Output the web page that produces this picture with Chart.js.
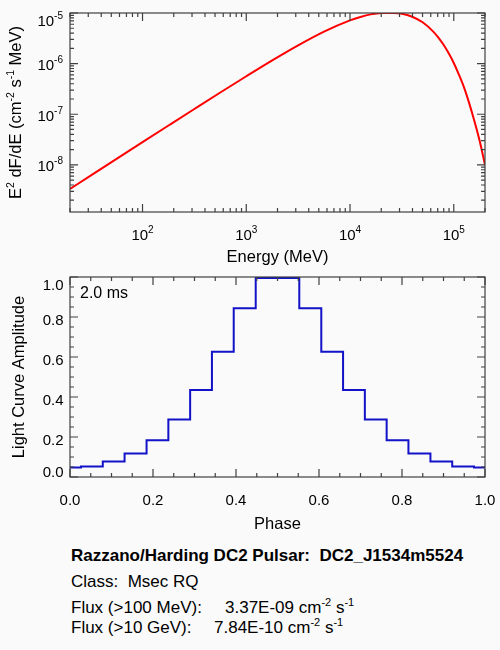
<!DOCTYPE html>
<html>
<head>
<meta charset="utf-8">
<script src="https://cdn.jsdelivr.net/npm/chart.js@4.4.1/dist/chart.umd.min.js"></script>
<style>
  body { margin: 0; background: #fafafa; width: 500px; height: 650px; overflow: hidden;
         font-family: "Liberation Sans", Arial, Helvetica, sans-serif; color: #000; }
  canvas { position: absolute; left: 0; }
  #sed { top: 0; }
  #lc { top: 270px; }
  .info { position: absolute; left: 71px; font-size: 17px; line-height: 20px; white-space: pre; }
  .val { position: absolute; top: 0; }
  .sup { position: relative; top: -7px; font-size: 11px; }
</style>
</head>
<body>
<canvas id="sed" width="500" height="270"></canvas>
<canvas id="lc" width="500" height="270"></canvas>

<div class="info" style="top:546px;font-weight:bold">Razzano/Harding DC2 Pulsar:  DC2_J1534m5524</div>
<div class="info" style="top:572px">Class:  Msec RQ</div>
<div class="info" style="top:598px">Flux (&gt;100 MeV):<span class="val" style="left:154px">3.37E-09 cm<span class="sup">-2</span> s<span class="sup">-1</span></span></div>
<div class="info" style="top:618px">Flux (&gt;10 GeV):<span class="val" style="left:143px">7.84E-10 cm<span class="sup">-2</span> s<span class="sup">-1</span></span></div>

<script>
// spectrum, E^2 dF/dE vs energy
const energyMeV = [20, 31.6, 56.2, 100, 178, 316, 562, 1000, 1780, 3160, 5620, 10000, 12600, 15800,
  20000, 25100, 31600, 39800, 50100, 63100, 70800, 79400, 89100, 100000, 112000, 126000, 141000,
  158000, 178000, 200000];
const sedFlux = [3.34e-9, 6.12e-9, 1.31e-8, 2.80e-8, 5.98e-8, 1.27e-7, 2.69e-7, 5.63e-7, 1.16e-6,
  2.30e-6, 4.30e-6, 7.15e-6, 8.35e-6, 9.40e-6, 1.005e-5, 1.01e-5, 0.97e-5, 8.45e-6, 6.55e-6, 4.34e-6,
  3.30e-6, 2.38e-6, 1.62e-6, 1.03e-6, 6.08e-7, 3.31e-7, 1.64e-7, 7.35e-8, 2.92e-8, 9.96e-9];

// light curve, 20 phase bins
const phase = [0.000, 0.053, 0.105, 0.158, 0.211, 0.263, 0.316, 0.368, 0.421, 0.474,
  0.526, 0.579, 0.632, 0.684, 0.737, 0.789, 0.842, 0.895, 0.947, 1.000];
const amplitude = [0.048, 0.053, 0.077, 0.117, 0.184, 0.287, 0.435, 0.626, 0.844, 0.995,
  0.995, 0.844, 0.626, 0.435, 0.287, 0.184, 0.117, 0.077, 0.053, 0.048];

// tick labels
const sedXPowers = [2, 3, 4, 5];
const sedYPowers = [-8, -7, -6, -5];
const lcTickValues = [0, 0.2, 0.4, 0.6, 0.8, 1.0];
const lcTickLabels = ['0.0', '0.2', '0.4', '0.6', '0.8', '1.0'];

const FONT = '"Liberation Sans", Arial, Helvetica, sans-serif';
const AXIS = '#404040';

// text with superscripts: parts = [[text, isSup], ...]
function drawRich(ctx, parts, x, y, align, size, supSize, raise) {
  let w = 0;
  parts.forEach(p => {
    ctx.font = (p[1] ? supSize : size) + 'px ' + FONT;
    w += ctx.measureText(p[0]).width;
  });
  let cx = align === 'center' ? x - w / 2 : align === 'right' ? x - w : x;
  ctx.textAlign = 'left';
  ctx.textBaseline = 'alphabetic';
  parts.forEach(p => {
    ctx.font = (p[1] ? supSize : size) + 'px ' + FONT;
    ctx.fillText(p[0], cx, p[1] ? y - raise : y);
    cx += ctx.measureText(p[0]).width;
  });
}

function logTicks(lo, hi) {
  const out = [];
  for (let e = Math.floor(Math.log10(lo)); e <= Math.ceil(Math.log10(hi)); e++) {
    for (let m = 1; m <= 9; m++) {
      const v = m * Math.pow(10, e);
      if (v >= lo * 0.999 && v <= hi * 1.001) out.push({ v: v, major: m === 1 });
    }
  }
  return out;
}

function linTicks() {
  const out = [];
  for (let k = 0; k <= 20; k++) out.push({ v: k * 0.05, major: k % 4 === 0 });
  return out;
}

function framePlugin(cfg) {
  return {
    id: 'frame',
    afterDraw(chart) {
      const ctx = chart.ctx, a = chart.chartArea;
      const xs = chart.scales.x, ys = chart.scales.y;
      ctx.save();
      ctx.strokeStyle = AXIS;
      ctx.lineWidth = 1.2;
      ctx.beginPath();
      cfg.xTicks.forEach(t => {
        const px = xs.getPixelForValue(t.v), len = t.major ? 8 : 4;
        ctx.moveTo(px, a.bottom); ctx.lineTo(px, a.bottom - len);
        ctx.moveTo(px, a.top); ctx.lineTo(px, a.top + len);
      });
      cfg.yTicks.forEach(t => {
        const py = ys.getPixelForValue(t.v), len = t.major ? 8 : 4;
        ctx.moveTo(a.left, py); ctx.lineTo(a.left + len, py);
        ctx.moveTo(a.right, py); ctx.lineTo(a.right - len, py);
      });
      ctx.stroke();
      ctx.strokeRect(a.left, a.top, a.right - a.left, a.bottom - a.top);

      ctx.fillStyle = '#000';
      cfg.xLabels.forEach(l => {
        drawRich(ctx, l.parts, xs.getPixelForValue(l.v), cfg.xLabelBase, 'center', 15, 10, 7);
      });
      cfg.yLabels.forEach(l => {
        const py = ys.getPixelForValue(l.v);
        const base = Math.min(Math.max(py + cfg.yShift, a.top + 13), a.bottom);
        drawRich(ctx, l.parts, cfg.yLabelRight, base, 'right', 15, 10, 7);
      });
      drawRich(ctx, cfg.xTitle, (a.left + a.right) / 2, cfg.xTitleBase, 'center', 16.5, 11, 7);
      ctx.save();
      ctx.translate(cfg.yTitleBase, (a.top + a.bottom) / 2);
      ctx.rotate(-Math.PI / 2);
      drawRich(ctx, cfg.yTitle, 0, 0, 'center', 16.5, 10.5, 7);
      ctx.restore();
      (cfg.notes || []).forEach(n => drawRich(ctx, n.parts, n.x, n.y, 'left', 16, 10, 7));
      ctx.restore();
    }
  };
}

const quiet = {
  responsive: false,
  animation: false,
  events: [],
  plugins: { legend: { display: false }, tooltip: { enabled: false } }
};

// Spectrum
new Chart(document.getElementById('sed'), {
  type: 'line',
  data: {
    datasets: [{
      data: energyMeV.map((e, i) => ({ x: e, y: sedFlux[i] })),
      borderColor: '#ff0000',
      borderWidth: 2,
      pointRadius: 0,
      cubicInterpolationMode: 'monotone',
      clip: 0
    }]
  },
  options: Object.assign({}, quiet, {
    layout: { padding: { top: 13, right: 15, left: 0, bottom: 0 } },
    scales: {
      x: { type: 'logarithmic', min: 20, max: 2e5, ticks: { display: false },
           grid: { display: false }, border: { display: false },
           afterFit(s) { s.height = 58; } },
      y: { type: 'logarithmic', min: 1.17e-9, max: 1e-5, ticks: { display: false },
           grid: { display: false }, border: { display: false },
           afterFit(s) { s.width = 70; } }
    }
  }),
  plugins: [framePlugin({
    xTicks: logTicks(20, 2e5),
    yTicks: logTicks(1.17e-9, 1e-5),
    xLabels: sedXPowers.map(p => ({ v: Math.pow(10, p), parts: [['10', false], [String(p), true]] })),
    yLabels: sedYPowers.map(p => ({ v: Math.pow(10, p), parts: [['10', false], [String(p), true]] })),
    xLabelBase: 240,
    yLabelRight: 63,
    yShift: 6.5,
    xTitle: [['Energy (MeV)', false]],
    xTitleBase: 262,
    yTitle: [['E', false], ['2', true], [' dF/dE (cm', false], ['-2', true], [' s', false], ['-1', true], [' MeV)', false]],
    yTitleBase: 20.5
  })]
});

// Light curve
new Chart(document.getElementById('lc'), {
  type: 'line',
  data: {
    datasets: [{
      data: phase.map((p, i) => ({ x: p, y: amplitude[i] })),
      borderColor: '#1212c8',
      borderWidth: 2,
      pointRadius: 0,
      stepped: 'middle',
      clip: 0
    }]
  },
  options: Object.assign({}, quiet, {
    layout: { padding: { top: 7, right: 15, left: 0, bottom: 0 } },
    scales: {
      x: { type: 'linear', min: 0, max: 1, ticks: { display: false },
           grid: { display: false }, border: { display: false },
           afterFit(s) { s.height = 63; } },
      y: { type: 'linear', min: 0, max: 1, ticks: { display: false },
           grid: { display: false }, border: { display: false },
           afterFit(s) { s.width = 70; } }
    }
  }),
  plugins: [framePlugin({
    xTicks: linTicks(),
    yTicks: linTicks(),
    xLabels: lcTickValues.map((v, i) => ({ v: v, parts: [[lcTickLabels[i], false]] })),
    yLabels: lcTickValues.map((v, i) => ({ v: v, parts: [[lcTickLabels[i], false]] })),
    xLabelBase: 234.5,
    yLabelRight: 63.5,
    yShift: 7.5,
    xTitle: [['Phase', false]],
    xTitleBase: 258.5,
    yTitle: [['Light Curve Amplitude', false]],
    yTitleBase: 23.5,
    notes: [{ x: 80, y: 27.5, parts: [['2.0 ms', false]] }]
  })]
});
</script>
</body>
</html>
